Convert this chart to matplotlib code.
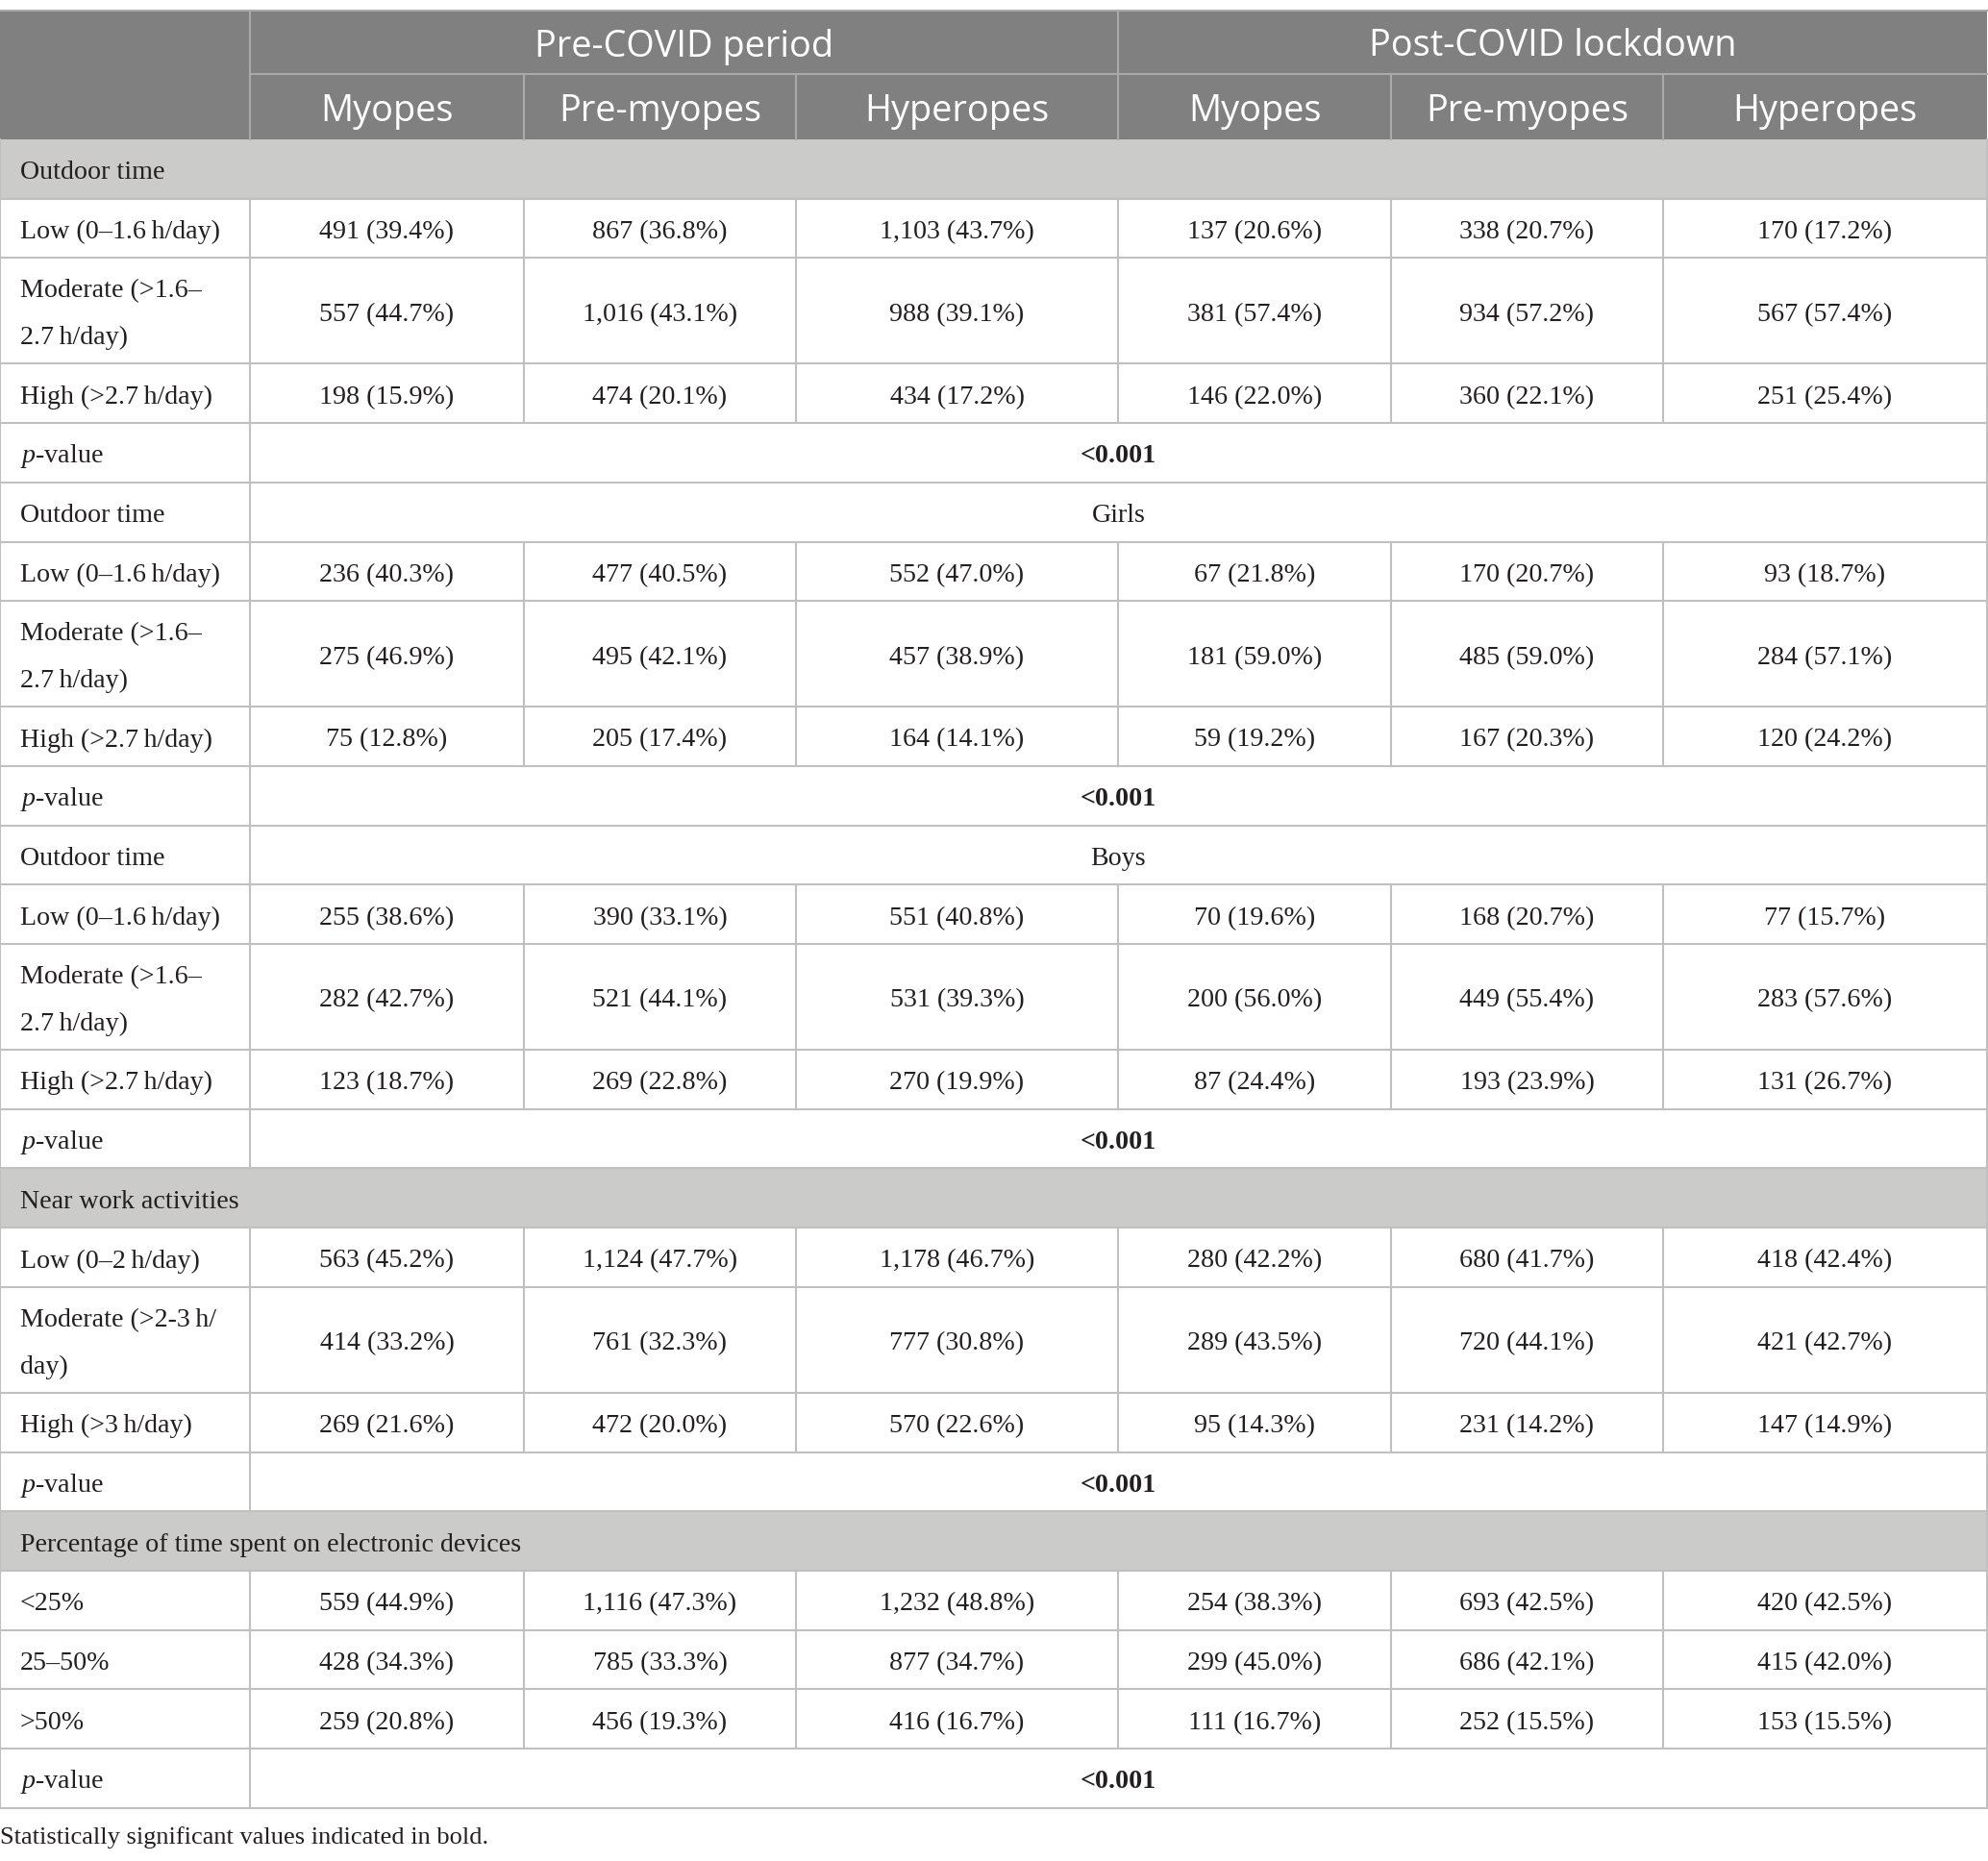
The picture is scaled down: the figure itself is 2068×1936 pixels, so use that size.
import matplotlib
matplotlib.use("Agg")
import matplotlib.pyplot as plt
from matplotlib.patches import Rectangle

plt.rcParams['mathtext.fontset'] = 'custom'
plt.rcParams['mathtext.rm'] = 'Liberation Serif'
plt.rcParams['mathtext.it'] = 'Liberation Serif:italic'

# data
groups = ["Pre-COVID period", "Post-COVID lockdown"]
subcols = ["Myopes", "Pre-myopes", "Hyperopes"]

outdoor_labels = ["Low (0\u20131.6\u2009h/day)", "Moderate (>1.6\u2013\n2.7\u2009h/day)", "High (>2.7\u2009h/day)"]
near_labels = ["Low (0\u20132\u2009h/day)", "Moderate (>2-3\u2009h/\nday)", "High (>3\u2009h/day)"]
device_labels = ["<25%", "25\u201350%", ">50%"]

outdoor_all = [
    ["491 (39.4%)", "867 (36.8%)", "1,103 (43.7%)", "137 (20.6%)", "338 (20.7%)", "170 (17.2%)"],
    ["557 (44.7%)", "1,016 (43.1%)", "988 (39.1%)", "381 (57.4%)", "934 (57.2%)", "567 (57.4%)"],
    ["198 (15.9%)", "474 (20.1%)", "434 (17.2%)", "146 (22.0%)", "360 (22.1%)", "251 (25.4%)"],
]
outdoor_girls = [
    ["236 (40.3%)", "477 (40.5%)", "552 (47.0%)", "67 (21.8%)", "170 (20.7%)", "93 (18.7%)"],
    ["275 (46.9%)", "495 (42.1%)", "457 (38.9%)", "181 (59.0%)", "485 (59.0%)", "284 (57.1%)"],
    ["75 (12.8%)", "205 (17.4%)", "164 (14.1%)", "59 (19.2%)", "167 (20.3%)", "120 (24.2%)"],
]
outdoor_boys = [
    ["255 (38.6%)", "390 (33.1%)", "551 (40.8%)", "70 (19.6%)", "168 (20.7%)", "77 (15.7%)"],
    ["282 (42.7%)", "521 (44.1%)", "531 (39.3%)", "200 (56.0%)", "449 (55.4%)", "283 (57.6%)"],
    ["123 (18.7%)", "269 (22.8%)", "270 (19.9%)", "87 (24.4%)", "193 (23.9%)", "131 (26.7%)"],
]
near_work = [
    ["563 (45.2%)", "1,124 (47.7%)", "1,178 (46.7%)", "280 (42.2%)", "680 (41.7%)", "418 (42.4%)"],
    ["414 (33.2%)", "761 (32.3%)", "777 (30.8%)", "289 (43.5%)", "720 (44.1%)", "421 (42.7%)"],
    ["269 (21.6%)", "472 (20.0%)", "570 (22.6%)", "95 (14.3%)", "231 (14.2%)", "147 (14.9%)"],
]
devices = [
    ["559 (44.9%)", "1,116 (47.3%)", "1,232 (48.8%)", "254 (38.3%)", "693 (42.5%)", "420 (42.5%)"],
    ["428 (34.3%)", "785 (33.3%)", "877 (34.7%)", "299 (45.0%)", "686 (42.1%)", "415 (42.0%)"],
    ["259 (20.8%)", "456 (19.3%)", "416 (16.7%)", "111 (16.7%)", "252 (15.5%)", "153 (15.5%)"],
]
p_values = ["<0.001", "<0.001", "<0.001", "<0.001", "<0.001"]
footnote = "Statistically significant values indicated in bold."

# rows: (kind, label, content)
rows = []
blocks = [
    ("section", "Outdoor time", None, outdoor_labels, outdoor_all),
    ("sub", "Outdoor time", "Girls", outdoor_labels, outdoor_girls),
    ("sub", "Outdoor time", "Boys", outdoor_labels, outdoor_boys),
    ("section", "Near work activities", None, near_labels, near_work),
    ("section", "Percentage of time spent on electronic devices", None, device_labels, devices),
]
for (kind, title, extra, labels, vals), pv in zip(blocks, p_values):
    rows.append((kind, title, extra))
    for lab, v in zip(labels, vals):
        rows.append(("data", lab, v))
    rows.append(("pval", r"$p$-value", pv))

# layout (pixels)
col_edges = [0, 260, 545, 828, 1163, 1447, 1730, 2067]
top = 10.5
head_h = [66, 68.5]
h1, h2 = 61.7, 110.0

dark = "#7f807f"
light = "#cbcbc9"
grid = "#c0c0c0"
hline = "#a9aaa9"
txt = "#231f20"
serif = "Liberation Serif"
sans = "Open Sans"
fs = 20.2
hfs = 27.3
lw = 1.5
dy = 4  # text baseline nudge

fig = plt.figure(figsize=(20.68, 19.36), dpi=100)
ax = fig.add_axes([0, 0, 1, 1])
ax.set_xlim(0, 2068)
ax.set_ylim(1936, 0)
ax.axis('off')

x0, x1 = col_edges[0], col_edges[-1]
mid = (col_edges[1] + col_edges[-1]) / 2

# header
y_h1 = top + head_h[0]
y_h2 = y_h1 + head_h[1]
ax.add_patch(Rectangle((x0, top), x1 - x0, y_h2 - top, color=dark, lw=0))
ax.plot([x0, x1], [top, top], color=hline, lw=lw)
ax.plot([col_edges[1], x1], [y_h1, y_h1], color=hline, lw=lw)
ax.plot([col_edges[1]] * 2, [top, y_h2], color=hline, lw=lw)
ax.plot([col_edges[4]] * 2, [top, y_h2], color=hline, lw=lw)
for c in [2, 3, 5, 6]:
    ax.plot([col_edges[c]] * 2, [y_h1, y_h2], color=hline, lw=lw)
for g, name in enumerate(groups):
    xa, xb = col_edges[1 + 3 * g], col_edges[4 + 3 * g]
    ax.text((xa + xb) / 2, (top + y_h1) / 2 + 5, name, ha='center', va='center',
            color='white', fontsize=hfs, family=sans)
    for k, sc in enumerate(subcols):
        c = 1 + 3 * g + k
        ax.text((col_edges[c] + col_edges[c + 1]) / 2, (y_h1 + y_h2) / 2 + 5, sc,
                ha='center', va='center', color='white', fontsize=hfs, family=sans)

# body
y = y_h2
for kind, label, content in rows:
    double = kind == "data" and "\n" in label
    h = h2 if double else h1
    yc = y + h / 2 + dy
    if kind == "section":
        ax.add_patch(Rectangle((x0, y), x1 - x0, h, color=light, lw=0))
    else:
        ax.plot([col_edges[1]] * 2, [y, y + h], color=grid, lw=lw)
    if kind == "data":
        for c in range(2, 7):
            ax.plot([col_edges[c]] * 2, [y, y + h], color=grid, lw=lw)
    ax.plot([x0] * 2, [y, y + h], color=grid, lw=lw)
    ax.plot([x1] * 2, [y, y + h], color=grid, lw=lw)

    if double:
        for j, part in enumerate(label.split("\n")):
            ax.text(21, yc + (j - 0.5) * 49, part, ha='left', va='center',
                    fontsize=fs, family=serif, color=txt)
    else:
        ax.text(21, yc, label, ha='left', va='center', fontsize=fs,
                family=serif, color=txt)

    if kind == "data":
        for c, v in enumerate(content):
            ax.text((col_edges[c + 1] + col_edges[c + 2]) / 2, yc, v, ha='center',
                    va='center', fontsize=fs, family=serif, color=txt)
    elif kind == "sub":
        ax.text(mid, yc, content, ha='center', va='center', fontsize=fs,
                family=serif, color=txt)
    elif kind == "pval":
        ax.text(mid, yc, content, ha='center', va='center', fontsize=fs,
                family=serif, color=txt, fontweight='bold')
    y += h
    ax.plot([x0, x1], [y, y], color=grid, lw=lw)

ax.text(0, y + 31, footnote, ha='left', va='center', fontsize=19,
        family=serif, color=txt)

fig.savefig("out.png", dpi=100)
